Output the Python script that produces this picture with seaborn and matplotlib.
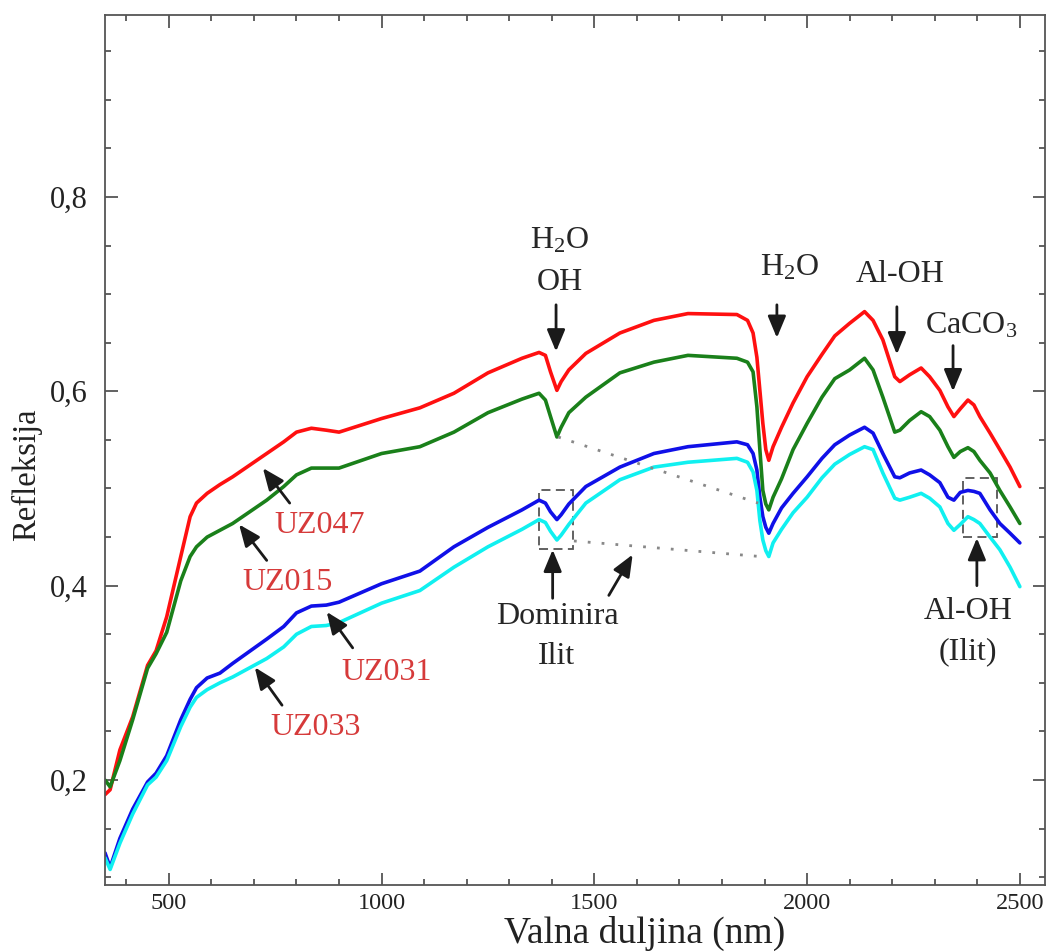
import numpy as np
import pandas as pd
import matplotlib
matplotlib.use("Agg")
import matplotlib.pyplot as plt
from matplotlib.ticker import MultipleLocator, FixedLocator, FixedFormatter
from matplotlib.patches import Rectangle
import seaborn as sns

# ---------------- data ----------------
wavelength = [350, 362, 385, 415, 450, 470, 495, 528, 550, 565, 590, 620, 650, 730, 770, 800,
              835, 870, 900, 1000, 1090, 1170, 1250, 1330, 1370, 1385, 1397, 1412, 1422, 1440,
              1480, 1560, 1640, 1720, 1835, 1860, 1873, 1882, 1889, 1896, 1903, 1910, 1920,
              1940, 1967, 2000, 2035, 2065, 2100, 2135, 2155, 2178, 2206, 2218, 2241, 2268,
              2288, 2312, 2331, 2345, 2360, 2378, 2392, 2406, 2430, 2453, 2477, 2500]

uz047 = [0.185, 0.190, 0.231, 0.265, 0.318, 0.333, 0.368, 0.430, 0.471, 0.485, 0.495, 0.504,
         0.512, 0.536, 0.548, 0.558, 0.562, 0.560, 0.558, 0.572, 0.583, 0.598, 0.619, 0.634,
         0.640, 0.637, 0.620, 0.601, 0.610, 0.622, 0.639, 0.660, 0.673, 0.680, 0.679, 0.673,
         0.660, 0.635, 0.601, 0.567, 0.540, 0.529, 0.543, 0.563, 0.588, 0.615, 0.638, 0.657,
         0.670, 0.682, 0.673, 0.653, 0.615, 0.610, 0.617, 0.624, 0.615, 0.601, 0.584, 0.574,
         0.582, 0.591, 0.586, 0.574, 0.557, 0.540, 0.522, 0.502]

uz015 = [0.200, 0.193, 0.220, 0.262, 0.315, 0.330, 0.352, 0.405, 0.430, 0.440, 0.450, 0.457,
         0.464, 0.488, 0.502, 0.514, 0.521, 0.521, 0.521, 0.536, 0.543, 0.558, 0.578, 0.592,
         0.598, 0.591, 0.574, 0.553, 0.563, 0.578, 0.594, 0.619, 0.630, 0.637, 0.634, 0.630,
         0.620, 0.584, 0.540, 0.498, 0.484, 0.478, 0.491, 0.510, 0.540, 0.567, 0.594, 0.613,
         0.622, 0.634, 0.622, 0.594, 0.558, 0.560, 0.570, 0.579, 0.574, 0.560, 0.543, 0.532,
         0.538, 0.542, 0.538, 0.529, 0.516, 0.498, 0.481, 0.464]

uz031 = [0.125, 0.110, 0.140, 0.170, 0.198, 0.207, 0.225, 0.262, 0.283, 0.295, 0.305, 0.310,
         0.320, 0.345, 0.358, 0.372, 0.379, 0.380, 0.383, 0.402, 0.415, 0.440, 0.460, 0.478,
         0.488, 0.485, 0.476, 0.468, 0.473, 0.484, 0.502, 0.522, 0.536, 0.543, 0.548, 0.545,
         0.536, 0.519, 0.491, 0.471, 0.460, 0.454, 0.464, 0.480, 0.495, 0.512, 0.531, 0.545,
         0.555, 0.563, 0.557, 0.536, 0.512, 0.511, 0.516, 0.519, 0.514, 0.506, 0.491, 0.488,
         0.496, 0.498, 0.497, 0.495, 0.478, 0.464, 0.454, 0.444]

uz033 = [0.120, 0.108, 0.135, 0.165, 0.195, 0.203, 0.220, 0.255, 0.275, 0.285, 0.293, 0.300,
         0.306, 0.325, 0.337, 0.350, 0.358, 0.359, 0.362, 0.382, 0.395, 0.419, 0.440, 0.458,
         0.468, 0.465, 0.456, 0.447, 0.452, 0.463, 0.485, 0.509, 0.522, 0.527, 0.531, 0.527,
         0.517, 0.498, 0.467, 0.447, 0.436, 0.430, 0.444, 0.458, 0.475, 0.491, 0.511, 0.525,
         0.535, 0.543, 0.540, 0.516, 0.490, 0.488, 0.491, 0.495, 0.490, 0.481, 0.464, 0.457,
         0.463, 0.471, 0.468, 0.464, 0.450, 0.437, 0.419, 0.399]

samples = ["UZ047", "UZ015", "UZ031", "UZ033"]
colors = ["#ff1010", "#1a801a", "#1010e8", "#10f0f0"]

y_ticks = [0.2, 0.4, 0.6, 0.8]
y_tick_labels = ["0,2", "0,4", "0,6", "0,8"]
x_ticks = [500, 1000, 1500, 2000, 2500]

# ---------------- styling ----------------
sns.set_style("ticks")
plt.rcParams["font.family"] = ["Liberation Serif", "DejaVu Serif"]
plt.rcParams["mathtext.fontset"] = "custom"
plt.rcParams["mathtext.rm"] = "Liberation Serif"
plt.rcParams["mathtext.it"] = "Liberation Serif:italic"
plt.rcParams["mathtext.bf"] = "Liberation Serif:bold"

df = pd.concat(
    [pd.DataFrame({"wl": wavelength, "refl": vals, "sample": name})
     for name, vals in zip(samples, [uz047, uz015, uz031, uz033])],
    ignore_index=True)

fig = plt.figure(figsize=(10.46, 9.52), dpi=100)
ax = fig.add_axes([0.1004, 0.0704, 0.8986, 0.9136])

sns.lineplot(data=df, x="wl", y="refl", hue="sample", hue_order=samples,
             palette=colors, estimator=None, sort=False, legend=False,
             linewidth=2.6, ax=ax)

ax.set_xlim(350, 2559)
ax.set_ylim(0.092, 0.987)

ax.xaxis.set_major_locator(FixedLocator(x_ticks))
ax.xaxis.set_minor_locator(MultipleLocator(100))
ax.yaxis.set_major_locator(FixedLocator(y_ticks))
ax.yaxis.set_major_formatter(FixedFormatter(y_tick_labels))
ax.yaxis.set_minor_locator(MultipleLocator(0.05))

for s in ax.spines.values():
    s.set_color("#555555")
    s.set_linewidth(1.3)

ax.tick_params(which="both", direction="in", top=True, right=True,
               color="#555555", width=1.3)
ax.tick_params(which="major", length=9)
ax.tick_params(which="minor", length=4.5)
ax.tick_params(axis="x", which="major", labelsize=17.5, pad=5.5, labelcolor="#222222")
ax.tick_params(axis="y", which="major", labelsize=22, pad=12.5, labelcolor="#222222")

ax.set_xlabel("Valna duljina (nm)", fontsize=27, color="#222222")
ax.xaxis.set_label_coords((645 - 105) / 940, -(951.5 - 885) / 870)
ax.xaxis.label.set_va("bottom")
ax.set_ylabel("Refleksija", fontsize=23.5, color="#222222")
ax.yaxis.set_label_coords((27 - 105) / 940, (885 - 475) / 870)
ax.yaxis.label.set_va("center")

# ---------------- annotations ----------------
txt_col = "#262626"
arr = dict(arrowstyle="-|>,head_length=0.6,head_width=0.25", color="#1a1a1a",
           lw=2.0, mutation_scale=22, shrinkA=0, shrinkB=0)

def arrow(tail, head):
    ax.annotate("", xy=head, xytext=tail, arrowprops=arr)

fs = 23
ax.text(1419, 0.755, r"H$_2$O", fontsize=fs, color=txt_col, ha="center", va="center")
ax.text(1419, 0.712, "OH", fontsize=fs, color=txt_col, ha="center", va="center")
arrow((1410, 0.689), (1410, 0.641))

ax.text(1959, 0.727, r"H$_2$O", fontsize=fs, color=txt_col, ha="center", va="center")
arrow((1929, 0.689), (1929, 0.655))

ax.text(2218, 0.720, "Al-OH", fontsize=fs, color=txt_col, ha="center", va="center")
arrow((2211, 0.687), (2211, 0.638))

ax.text(2385, 0.667, r"CaCO$_3$", fontsize=fs, color=txt_col, ha="center", va="center")
arrow((2343, 0.647), (2343, 0.600))

ax.text(1412, 0.368, "Dominira", fontsize=fs, color=txt_col, ha="center", va="center")
ax.text(1412, 0.327, "Ilit", fontsize=fs, color=txt_col, ha="center", va="center")
arrow((1402, 0.387), (1402, 0.437))
arrow((1534, 0.390), (1590, 0.432))

ax.text(2378, 0.373, "Al-OH", fontsize=fs, color=txt_col, ha="center", va="center")
ax.text(2378, 0.332, "(Ilit)", fontsize=fs, color=txt_col, ha="center", va="center")
arrow((2399, 0.400), (2399, 0.449))

lab_col = "#d63a3a"
ax.text(855, 0.462, "UZ047", fontsize=fs, color=lab_col, ha="center", va="center")
arrow((784, 0.485), (721, 0.521))
ax.text(780, 0.403, "UZ015", fontsize=fs, color=lab_col, ha="center", va="center")
arrow((730, 0.426), (665, 0.463))
ax.text(1012, 0.311, "UZ031", fontsize=fs, color=lab_col, ha="center", va="center")
arrow((932, 0.336), (871, 0.373))
ax.text(845, 0.254, "UZ033", fontsize=fs, color=lab_col, ha="center", va="center")
arrow((766, 0.277), (702, 0.316))

# dotted connector lines
ax.plot([1415, 1885], [0.553, 0.485], ls=(0, (1, 4)), color="#888888", lw=2)
ax.plot([1452, 1890], [0.446, 0.430], ls=(0, (1, 4)), color="#888888", lw=2)

# dashed boxes
for (x0, y0, w, h) in [(1370, 0.438, 80, 0.060), (2366, 0.450, 80, 0.061)]:
    ax.add_patch(Rectangle((x0, y0), w, h, fill=False, ls=(0, (5, 3)),
                           ec="#555555", lw=1.3))

fig.savefig("out.png", dpi=100)
